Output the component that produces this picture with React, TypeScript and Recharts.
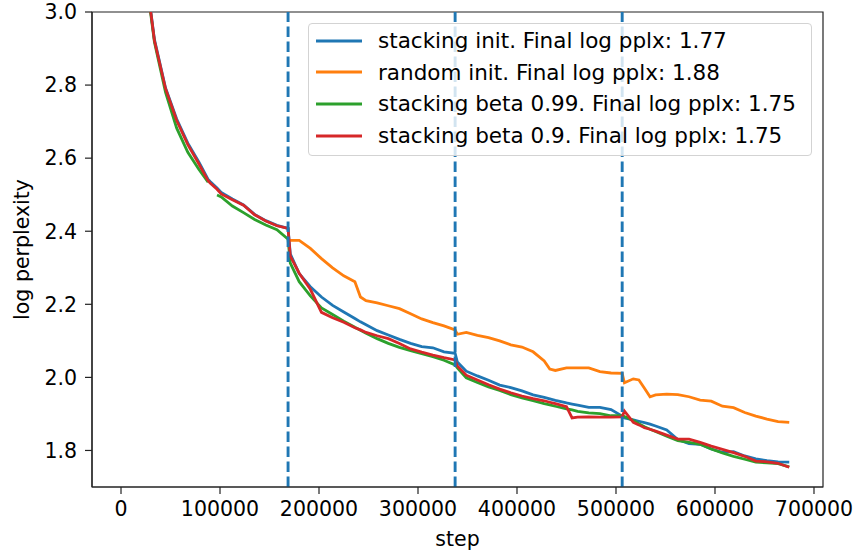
import React from 'react';
import { LineChart, Line, XAxis, YAxis, ReferenceLine, ReferenceArea, Legend } from 'recharts';

const steps = [11250, 22500, 33750, 45000, 56250, 67500, 78750, 88000, 90000, 97000, 101250, 112500, 123750, 135000, 146250, 157500, 168750, 171000, 180000, 191250, 202500, 213750, 225000, 236250, 241875, 247500, 258750, 270000, 281250, 292500, 303750, 315000, 326250, 337500, 339750, 348750, 360000, 371250, 382500, 393750, 405000, 416250, 427500, 433125, 438750, 450000, 455625, 461250, 472500, 483750, 495000, 506250, 508500, 517500, 523125, 528750, 534375, 540000, 551250, 562500, 573750, 585000, 596250, 607500, 618750, 630000, 641250, 652500, 663750, 675000];

const stackingInit = [3.50, 3.16, 2.925, 2.792, 2.707, 2.641, 2.589, 2.542, 2.536, 2.518,
  2.506, 2.488, 2.472, 2.446, 2.429, 2.416, 2.408, 2.338, 2.284, 2.248,
  2.220, 2.197, 2.179, 2.161, 2.152, 2.144, 2.128, 2.116, 2.104, 2.093,
  2.084, 2.081, 2.070, 2.066, 2.042, 2.017, 2.004, 1.992, 1.979, 1.972,
  1.963, 1.952, 1.945, 1.941, 1.937, 1.930, 1.927, 1.924, 1.918, 1.918,
  1.912, 1.894, 1.889, 1.884, 1.880, 1.876, 1.872, 1.867, 1.856, 1.830,
  1.819, 1.817, 1.804, 1.795, 1.797, 1.785, 1.777, 1.772, 1.769, 1.768];

const randomInit = [null, null, null, null, null, null, null, null, null, null,
  null, null, null, null, null, null, 2.375, 2.375, 2.375, 2.353,
  2.325, 2.300, 2.278, 2.262, 2.220, 2.210, 2.204, 2.196, 2.188, 2.174,
  2.160, 2.150, 2.141, 2.130, 2.118, 2.123, 2.115, 2.109, 2.100, 2.089,
  2.083, 2.070, 2.045, 2.023, 2.019, 2.026, 2.026, 2.026, 2.026, 2.016,
  2.012, 2.011, 1.985, 1.996, 1.993, 1.970, 1.947, 1.952, 1.954, 1.953,
  1.947, 1.938, 1.935, 1.921, 1.917, 1.904, 1.894, 1.886, 1.879, 1.877];

const beta099 = [3.50, 3.15, 2.918, 2.780, 2.682, 2.616, 2.569, 2.534, null, 2.499,
  2.494, 2.469, 2.451, 2.432, 2.417, 2.404, 2.378, 2.313, 2.262, 2.223,
  2.190, 2.172, 2.154, 2.137, 2.129, 2.121, 2.106, 2.093, 2.082, 2.073,
  2.065, 2.057, 2.047, 2.034, 2.026, 1.999, 1.986, 1.974, 1.964, 1.953,
  1.944, 1.936, 1.928, 1.925, 1.921, 1.914, 1.911, 1.907, 1.903, 1.901,
  1.895, 1.895, 1.893, 1.882, 1.873, 1.865, 1.858, 1.852, 1.839, 1.827,
  1.822, 1.817, 1.804, 1.793, 1.784, 1.776, 1.768, 1.766, 1.764, 1.755];

const beta09 = [3.50, 3.16, 2.922, 2.790, 2.703, 2.637, 2.584, 2.538, 2.532, 2.515,
  2.502, 2.486, 2.471, 2.445, 2.428, 2.415, 2.408, 2.332, 2.285, 2.241,
  2.178, 2.163, 2.151, 2.136, 2.130, 2.123, 2.114, 2.106, 2.093, 2.078,
  2.069, 2.061, 2.054, 2.048, 2.031, 2.006, 1.993, 1.980, 1.968, 1.958,
  1.949, 1.942, 1.936, 1.932, 1.928, 1.920, 1.889, 1.891, 1.892, 1.891,
  1.891, 1.892, 1.908, 1.877, 1.870, 1.862, 1.858, 1.853, 1.842, 1.831,
  1.831, 1.822, 1.812, 1.803, 1.794, 1.784, 1.771, 1.769, 1.765, 1.754];

const stageBoundaries = [168750, 337500, 506250];
const xTicks = [0, 100000, 200000, 300000, 400000, 500000, 600000, 700000];
const yTicks = [1.8, 2.0, 2.2, 2.4, 2.6, 2.8, 3.0];
const seriesNames = [
  'stacking init. Final log pplx: 1.77',
  'random init. Final log pplx: 1.88',
  'stacking beta 0.99. Final log pplx: 1.75',
  'stacking beta 0.9. Final log pplx: 1.75',
];
const seriesColors = ['#1f77b4', '#ff7f0e', '#2ca02c', '#d62728'];

const data = steps.map((s, i) => ({
  step: s,
  a: stackingInit[i],
  b: randomInit[i],
  c: beta099[i],
  d: beta09[i],
}));

const X_DOMAIN: [number, number] = [-29300, 709100];
const Y_DOMAIN: [number, number] = [1.7, 3.0];
const FONT = 'DejaVu Sans';
const FS = 20.5;
const LEGEND_FS = 21.5;
const LW = 2.8;

const renderLegend = (props: any) => {
  const payload = [...(props.payload || [])].sort(
    (p: any, q: any) => seriesNames.indexOf(p.value) - seriesNames.indexOf(q.value)
  );
  return (
    <div style={{
      width: 504, height: 133, boxSizing: 'border-box',
      background: 'rgba(255,255,255,0.8)', border: '1px solid #d3d3d3', borderRadius: 4,
      paddingTop: 1, fontFamily: FONT, fontSize: LEGEND_FS, color: '#000', textAlign: 'left',
    }}>
      {payload.map((p: any, i: number) => (
        <div key={i} style={{ height: 31.6, display: 'flex', alignItems: 'center', whiteSpace: 'nowrap' }}>
          <svg width={60} height={10} style={{ marginLeft: 5, display: 'block' }}>
            <line x1={2} x2={48} y1={5} y2={5} stroke={p.color} strokeWidth={LW} />
          </svg>
          <span style={{ marginLeft: 4, lineHeight: '31.6px' }}>{p.value}</span>
        </div>
      ))}
    </div>
  );
};

export default function App() {
  return (
    <div style={{ position: 'absolute', left: 0, top: 0, width: 859, height: 552, background: '#fff' }}>
      <LineChart width={859} height={552} data={data} margin={{ top: 12, right: 36, left: 0, bottom: 0 }}>
        <XAxis
          type="number" dataKey="step" domain={X_DOMAIN} allowDataOverflow ticks={xTicks}
          height={65} tickSize={7} tickMargin={7}
          axisLine={{ stroke: '#222', strokeWidth: 1.2 }} tickLine={{ stroke: '#222', strokeWidth: 1.2 }}
          tick={{ fill: '#000', fontSize: FS, fontFamily: FONT }}
          tickFormatter={(v: number) => String(v)}
          label={{ value: 'step', position: 'insideBottom', offset: 6, fill: '#000', fontSize: FS, fontFamily: FONT }}
        />
        <YAxis
          type="number" domain={Y_DOMAIN} allowDataOverflow ticks={yTicks} width={92}
          tickSize={7} tickMargin={8}
          axisLine={{ stroke: '#222', strokeWidth: 1.2 }} tickLine={{ stroke: '#222', strokeWidth: 1.2 }}
          tick={{ fill: '#000', fontSize: FS, fontFamily: FONT }}
          tickFormatter={(v: number) => v.toFixed(1)}
          label={{ value: 'log perplexity', angle: -90, position: 'center', dx: -24, fill: '#000', fontSize: FS, fontFamily: FONT }}
        />
        <ReferenceArea x1={X_DOMAIN[0]} x2={X_DOMAIN[1]} y1={Y_DOMAIN[0]} y2={Y_DOMAIN[1]} fill="none" stroke="#222" strokeWidth={1.2} fillOpacity={0} />
        <Line type="linear" dataKey="a" name={seriesNames[0]} stroke={seriesColors[0]} strokeWidth={LW} dot={false} isAnimationActive={false} />
        <Line type="linear" dataKey="b" name={seriesNames[1]} stroke={seriesColors[1]} strokeWidth={LW} dot={false} isAnimationActive={false} />
        <Line type="linear" dataKey="c" name={seriesNames[2]} stroke={seriesColors[2]} strokeWidth={LW} dot={false} isAnimationActive={false} />
        <Line type="linear" dataKey="d" name={seriesNames[3]} stroke={seriesColors[3]} strokeWidth={LW} dot={false} isAnimationActive={false} />
        {stageBoundaries.map((x) => (
          <ReferenceLine key={x} x={x} stroke="#1f77b4" strokeWidth={2.9} strokeDasharray="10.5 4.5" />
        ))}
        <Legend
          layout="horizontal" verticalAlign="middle" align="center"
          wrapperStyle={{ left: 308, top: 23, width: 504, height: 133 }}
          content={renderLegend}
        />
      </LineChart>
    </div>
  );
}
